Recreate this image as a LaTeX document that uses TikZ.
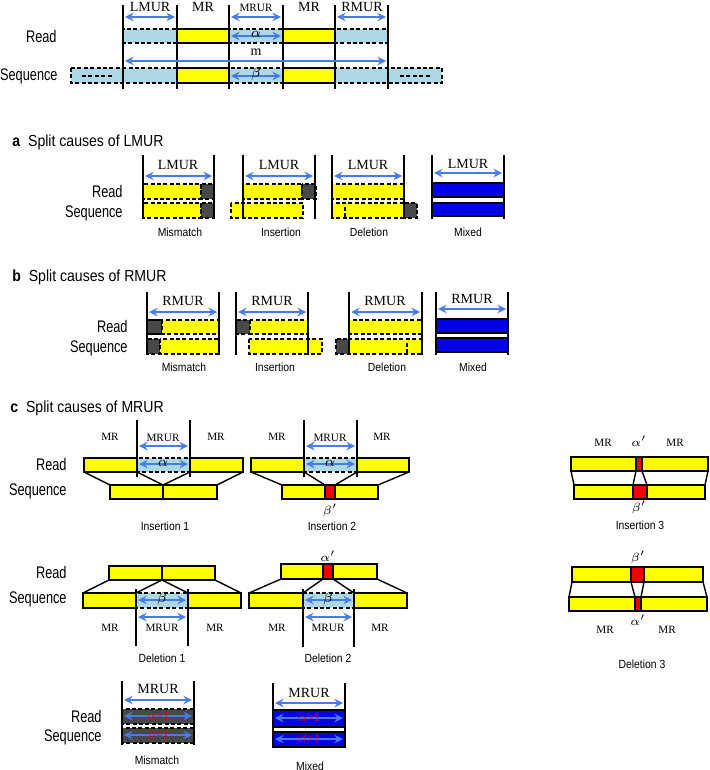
\documentclass[tikz,border=0pt]{standalone}
\usepackage{fontspec}
\setmainfont{Liberation Serif}
\newfontfamily\lblfont[FakeStretch=0.76]{Liberation Sans}
\newfontfamily\capfont[FakeStretch=0.88]{Liberation Sans}
\usepackage{tikz}
\definecolor{mryellow}{RGB}{255,255,0}
\definecolor{murcyan}{RGB}{173,216,230}
\definecolor{gapgray}{RGB}{72,72,72}
\definecolor{mixblue}{RGB}{0,0,235}
\definecolor{errred}{RGB}{240,0,0}
\definecolor{arrowblue}{RGB}{72,122,232}
\tikzset{
  mrbox/.style={draw,line width=0.7pt,fill=mryellow},
  dybox/.style={draw,line width=0.7pt,dash pattern=on 2pt off 1.2pt,fill=mryellow},
  murbox/.style={draw,line width=0.7pt,dash pattern=on 2pt off 1.2pt,fill=murcyan},
  gbox/.style={draw,line width=0.7pt,dash pattern=on 2pt off 1.2pt,fill=gapgray},
  sgbox/.style={draw,line width=0.7pt,fill=gapgray},
  bbox/.style={draw,line width=0.8pt,fill=mixblue},
  rbox/.style={draw,line width=0.6pt,fill=errred},
  bound/.style={line width=0.9pt},
  link/.style={line width=0.7pt},
  tickline/.style={line width=0.6pt,dash pattern=on 2pt off 1.2pt},
  dimarr/.style={<->,>=stealth,draw=arrowblue,line width=0.9pt},
  side/.style={font=\lblfont\fontsize{8.4}{9}\selectfont,anchor=east,inner sep=0pt},
  headline/.style={font=\capfont\fontsize{8}{9}\selectfont,anchor=west,inner sep=0pt},
  capt/.style={font=\capfont\fontsize{5.9}{7}\selectfont,inner sep=0pt},
  reg/.style={font=\fontsize{7}{8}\selectfont,inner sep=0pt},
  regs/.style={font=\fontsize{5.6}{6.5}\selectfont,inner sep=0pt},
  errtxt/.style={font=\fontsize{6}{7}\selectfont,text=errred,inner sep=0pt},
}
\begin{document}
\begin{tikzpicture}[x=0.5pt,y=-0.5pt]
\useasboundingbox (0,0) rectangle (710,770);
% overview of the regions
%   rows
    \draw[murbox] (71,68) rectangle (442,83);
    \foreach \a/\b in {123/177,229/283,335/388}
        \draw[murbox] (\a,29) rectangle (\b,43);
    \foreach \a/\b in {177/229,283/335} {
        \draw[mrbox] (\a,29) rectangle (\b,43);
        \draw[mrbox] (\a,68) rectangle (\b,83);
    }
    \draw[tickline] (82,76) -- (112,76);
    \draw[tickline] (400,76) -- (430,76);
    \foreach \x in {123,177,229,283,335,388}
        \draw[bound] (\x,5) -- (\x,89);
%   arrows
    \draw[dimarr] (125,17) -- (175,17);
    \draw[dimarr] (231,17) -- (281,17);
    \draw[dimarr] (337,17) -- (386,17);
    \draw[dimarr] (231,36) -- (281,36);
    \draw[dimarr] (125,61) -- (386,61);
    \draw[dimarr] (231,76) -- (281,76);
%   labels
    \node[side] (read0) at (57,36) {Read};
    \node[side] (seq0) at (58,76) {Sequence};
    \node[reg] (lmur0) at (150,7) {LMUR};
    \node[reg] (mrl0) at (203,7) {MR};
    \node[regs] (mrur0) at (256,8) {MRUR};
    \node[reg] (mrr0) at (309,7) {MR};
    \node[reg] (rmur0) at (362,7) {RMUR};
    \node[reg] (alpha0) at (256,34) {$\alpha$};
    \node[reg] (m0) at (256,52) {m};
    \node[reg] (beta0) at (256,74) {$\beta$};

% a: split causes of LMUR
    \node[headline] (heada) at (12,142) {\textbf{a}\ \ Split causes of LMUR};
    \node[side] (reada) at (123,191) {Read};
    \node[side] (seqa) at (123,213) {Sequence};
%   mismatch
    \draw[dybox] (143,184) rectangle (201,199);
    \draw[gbox] (201,184) rectangle (214,199);
    \draw[dybox] (143,203) rectangle (201,218);
    \draw[gbox] (201,203) rectangle (214,218);
%   insertion
    \draw[dybox] (243,184) rectangle (302,199);
    \draw[gbox] (302,184) rectangle (316,199);
    \draw[dybox] (231,203) rectangle (303,218);
%   deletion
    \draw[dybox] (332,184) rectangle (404,199);
    \draw[dybox] (332,203) rectangle (404,218);
    \draw[tickline] (345,207) -- (345,218);
    \draw[gbox] (404,203) rectangle (417,218);
%   mixed
    \draw[bbox] (432,183) rectangle (504,197);
    \draw[bbox] (432,203) rectangle (504,216);
    \foreach \l/\r in {143/214,243/315,332/404,432/504} {
        \draw[bound] (\l,155) -- (\l,219);
        \draw[bound] (\r,155) -- (\r,219);
    }
    \foreach \l/\r/\y in {143/214/176,243/315/176,332/404/176,432/504/173}
        \draw[dimarr] (\l+2,\y) -- (\r-2,\y);
    \node[reg] (lmura1) at (178,165) {LMUR};
    \node[reg] (lmura2) at (279,165) {LMUR};
    \node[reg] (lmura3) at (368,165) {LMUR};
    \node[reg] (lmura4) at (468,164) {LMUR};
    \node[capt] (capa1) at (180,232) {Mismatch};
    \node[capt] (capa2) at (281,232) {Insertion};
    \node[capt] (capa3) at (369,232) {Deletion};
    \node[capt] (capa4) at (468,232) {Mixed};

% b: split causes of RMUR
    \node[headline] (headb) at (12,277) {\textbf{b}\ \ Split causes of RMUR};
    \node[side] (readb) at (128,326) {Read};
    \node[side] (seqb) at (128,348) {Sequence};
%   mismatch
    \draw[sgbox] (147,320) rectangle (162,334);
    \draw[dybox] (162,320) rectangle (219,334);
    \draw[gbox] (147,339) rectangle (160,354);
    \draw[dybox] (160,339) rectangle (219,354);
%   insertion
    \draw[gbox] (236,320) rectangle (250,334);
    \draw[dybox] (250,320) rectangle (308,334);
    \draw[dybox] (249,339) rectangle (322,354);
%   deletion
    \draw[dybox] (349,320) rectangle (422,334);
    \draw[gbox] (336,339) rectangle (349,354);
    \draw[dybox] (349,339) rectangle (422,354);
    \draw[tickline] (407,343) -- (407,354);
%   mixed
    \draw[bbox] (436,319) rectangle (508,333);
    \draw[bbox] (436,338) rectangle (508,352);
    \foreach \l/\r in {147/219,236/308,349/422,436/508} {
        \draw[bound] (\l,292) -- (\l,355);
        \draw[bound] (\r,292) -- (\r,355);
    }
    \foreach \l/\r/\y in {147/219/312,236/308/312,349/422/312,436/508/309}
        \draw[dimarr] (\l+2,\y) -- (\r-2,\y);
    \node[reg] (rmurb1) at (183,301) {RMUR};
    \node[reg] (rmurb2) at (272,301) {RMUR};
    \node[reg] (rmurb3) at (385,301) {RMUR};
    \node[reg] (rmurb4) at (472,299) {RMUR};
    \node[capt] (capb1) at (184,367) {Mismatch};
    \node[capt] (capb2) at (275,367) {Insertion};
    \node[capt] (capb3) at (387,367) {Deletion};
    \node[capt] (capb4) at (473,367) {Mixed};

% c: split causes of MRUR
    \node[headline] (headc) at (10,408) {\textbf{c}\ \ Split causes of MRUR};
    \node[side] (readc1) at (67,464) {Read};
    \node[side] (seqc1) at (67,491) {Sequence};
    \node[side] (readc2) at (67,572) {Read};
    \node[side] (seqc2) at (67,599) {Sequence};
%   insertion 1
    \draw[link] (84,472) -- (110,485);
    \draw[link] (243,472) -- (217,485);
    \draw[link] (137,472) -- (163,485) -- (190,472);
    \draw[mrbox] (84,458) rectangle (137,472);
    \draw[murbox] (137,458) rectangle (190,472);
    \draw[mrbox] (190,458) rectangle (243,472);
    \draw[mrbox] (110,485) rectangle (163,499);
    \draw[mrbox] (163,485) rectangle (217,499);
    \draw[bound] (137,420) -- (137,477);
    \draw[bound] (190,420) -- (190,477);
    \draw[dimarr] (139,446) -- (188,446);
    \draw[dimarr] (139,464) -- (188,464);
    \node[regs] (mri1) at (110,437) {MR};
    \node[regs] (mruri1) at (163,438) {MRUR};
    \node[regs] (mrj1) at (216,437) {MR};
    \node[reg] (ai1) at (163,463) {$\alpha$};
    \node[capt] (capi1) at (165,526) {Insertion 1};
%   insertion 2
    \draw[link] (251,472) -- (282,485);
    \draw[link] (409,472) -- (378,485);
    \draw[link] (304,472) -- (325,485);
    \draw[link] (357,472) -- (335,485);
    \draw[mrbox] (251,458) rectangle (304,472);
    \draw[murbox] (304,458) rectangle (357,472);
    \draw[mrbox] (357,458) rectangle (409,472);
    \draw[mrbox] (282,485) rectangle (325,499);
    \draw[rbox] (325,485) rectangle (335,499);
    \draw[mrbox] (335,485) rectangle (378,499);
    \draw[bound] (304,420) -- (304,477);
    \draw[bound] (357,420) -- (357,477);
    \draw[dimarr] (306,446) -- (355,446);
    \draw[dimarr] (306,464) -- (355,464);
    \node[regs] (mri2) at (277,437) {MR};
    \node[regs] (mruri2) at (330,438) {MRUR};
    \node[regs] (mrj2) at (382,437) {MR};
    \node[reg] (ai2) at (330,463) {$\alpha$};
    \node[regs] (bi2) at (330,510) {$\beta'$};
    \node[capt] (capi2) at (332,526) {Insertion 2};
%   insertion 3
    \draw[link] (571,471) -- (574,485);
    \draw[link] (708,471) -- (705,485);
    \draw[link] (636,471) -- (633,485);
    \draw[link] (642,471) -- (647,485);
    \draw[mrbox] (571,457) rectangle (636,471);
    \draw[rbox] (636,457) rectangle (642,471);
    \draw[mrbox] (642,457) rectangle (708,471);
    \draw[mrbox] (574,485) rectangle (633,499);
    \draw[rbox] (633,485) rectangle (647,499);
    \draw[mrbox] (647,485) rectangle (705,499);
    \node[regs] (mri3) at (603,443) {MR};
    \node[regs] (ai3) at (639,441) {$\alpha'$};
    \node[regs] (mrj3) at (675,443) {MR};
    \node[regs] (bi3) at (639,507) {$\beta'$};
    \node[capt] (capi3) at (640,525) {Insertion 3};
%   deletion 1
    \draw[link] (109,580) -- (83,593);
    \draw[link] (215,580) -- (241,593);
    \draw[link] (136,593) -- (162,580) -- (188,593);
    \draw[mrbox] (109,566) rectangle (162,580);
    \draw[mrbox] (162,566) rectangle (215,580);
    \draw[mrbox] (83,593) rectangle (136,608);
    \draw[murbox] (136,593) rectangle (188,608);
    \draw[mrbox] (188,593) rectangle (241,608);
    \draw[bound] (136,589) -- (136,646);
    \draw[bound] (188,589) -- (188,646);
    \draw[dimarr] (138,600) -- (186,600);
    \draw[dimarr] (138,617) -- (186,617);
    \node[reg] (bd1) at (162,599) {$\beta$};
    \node[regs] (mrd1) at (110,628) {MR};
    \node[regs] (mrurd1) at (162,628) {MRUR};
    \node[regs] (mre1) at (215,628) {MR};
    \node[capt] (capd1) at (162,658) {Deletion 1};
%   deletion 2
    \draw[link] (281,579) -- (249,593);
    \draw[link] (377,579) -- (407,593);
    \draw[link] (323,579) -- (303,593);
    \draw[link] (333,579) -- (354,593);
    \draw[mrbox] (281,564) rectangle (323,579);
    \draw[rbox] (323,564) rectangle (333,579);
    \draw[mrbox] (333,564) rectangle (377,579);
    \draw[mrbox] (249,593) rectangle (303,608);
    \draw[murbox] (303,593) rectangle (354,608);
    \draw[mrbox] (354,593) rectangle (407,608);
    \draw[bound] (303,589) -- (303,647);
    \draw[bound] (354,589) -- (354,647);
    \draw[dimarr] (305,600) -- (352,600);
    \draw[dimarr] (305,617) -- (352,617);
    \node[regs] (ad2) at (328,556) {$\alpha'$};
    \node[reg] (bd2) at (328,599) {$\beta$};
    \node[regs] (mrd2) at (277,628) {MR};
    \node[regs] (mrurd2) at (328,628) {MRUR};
    \node[regs] (mre2) at (380,628) {MR};
    \node[capt] (capd2) at (328,658) {Deletion 2};
%   deletion 3
    \draw[link] (572,582) -- (569,597);
    \draw[link] (703,582) -- (707,597);
    \draw[link] (631,582) -- (635,597);
    \draw[link] (644,582) -- (641,597);
    \draw[mrbox] (572,567) rectangle (631,582);
    \draw[rbox] (631,567) rectangle (644,582);
    \draw[mrbox] (644,567) rectangle (703,582);
    \draw[mrbox] (569,597) rectangle (635,611);
    \draw[rbox] (635,597) rectangle (641,611);
    \draw[mrbox] (641,597) rectangle (707,611);
    \node[regs] (bd3) at (638,557) {$\beta'$};
    \node[regs] (ad3) at (638,620) {$\alpha'$};
    \node[regs] (mrd3) at (605,630) {MR};
    \node[regs] (mre3) at (667,630) {MR};
    \node[capt] (capd3) at (642,664) {Deletion 3};
%   mismatch and mixed
    \node[side] (readc3) at (102,716) {Read};
    \node[side] (seqc3) at (102,737) {Sequence};
    \draw[gbox] (122,709) rectangle (194,724);
    \draw[gbox] (122,728) rectangle (194,743);
    \draw[bbox] (273,710) rectangle (345,727);
    \draw[bbox] (273,732) rectangle (345,747);
    \draw[bound] (122,681) -- (122,745);
    \draw[bound] (194,681) -- (194,745);
    \draw[bound] (273,683) -- (273,748);
    \draw[bound] (345,683) -- (345,748);
    \draw[dimarr] (124,700) -- (192,700);
    \draw[dimarr] (124,716) -- (192,716);
    \draw[dimarr] (124,735) -- (192,735);
    \draw[dimarr] (275,703) -- (343,703);
    \draw[dimarr] (275,718) -- (343,718);
    \draw[dimarr] (275,739) -- (343,739);
    \node[reg] (mrurm) at (158,689) {MRUR};
    \node[reg] (mrurx) at (309,693) {MRUR};
    \node[errtxt] (am) at (158,716) {$\alpha$=1};
    \node[errtxt] (bm) at (158,735) {$\beta$=1};
    \node[errtxt] (ax) at (309,718) {$\alpha$>1};
    \node[errtxt] (bx) at (309,739) {$\beta$>1};
    \node[capt] (capm) at (157,760) {Mismatch};
    \node[capt] (capx) at (310,766) {Mixed};
\end{tikzpicture}
\end{document}
